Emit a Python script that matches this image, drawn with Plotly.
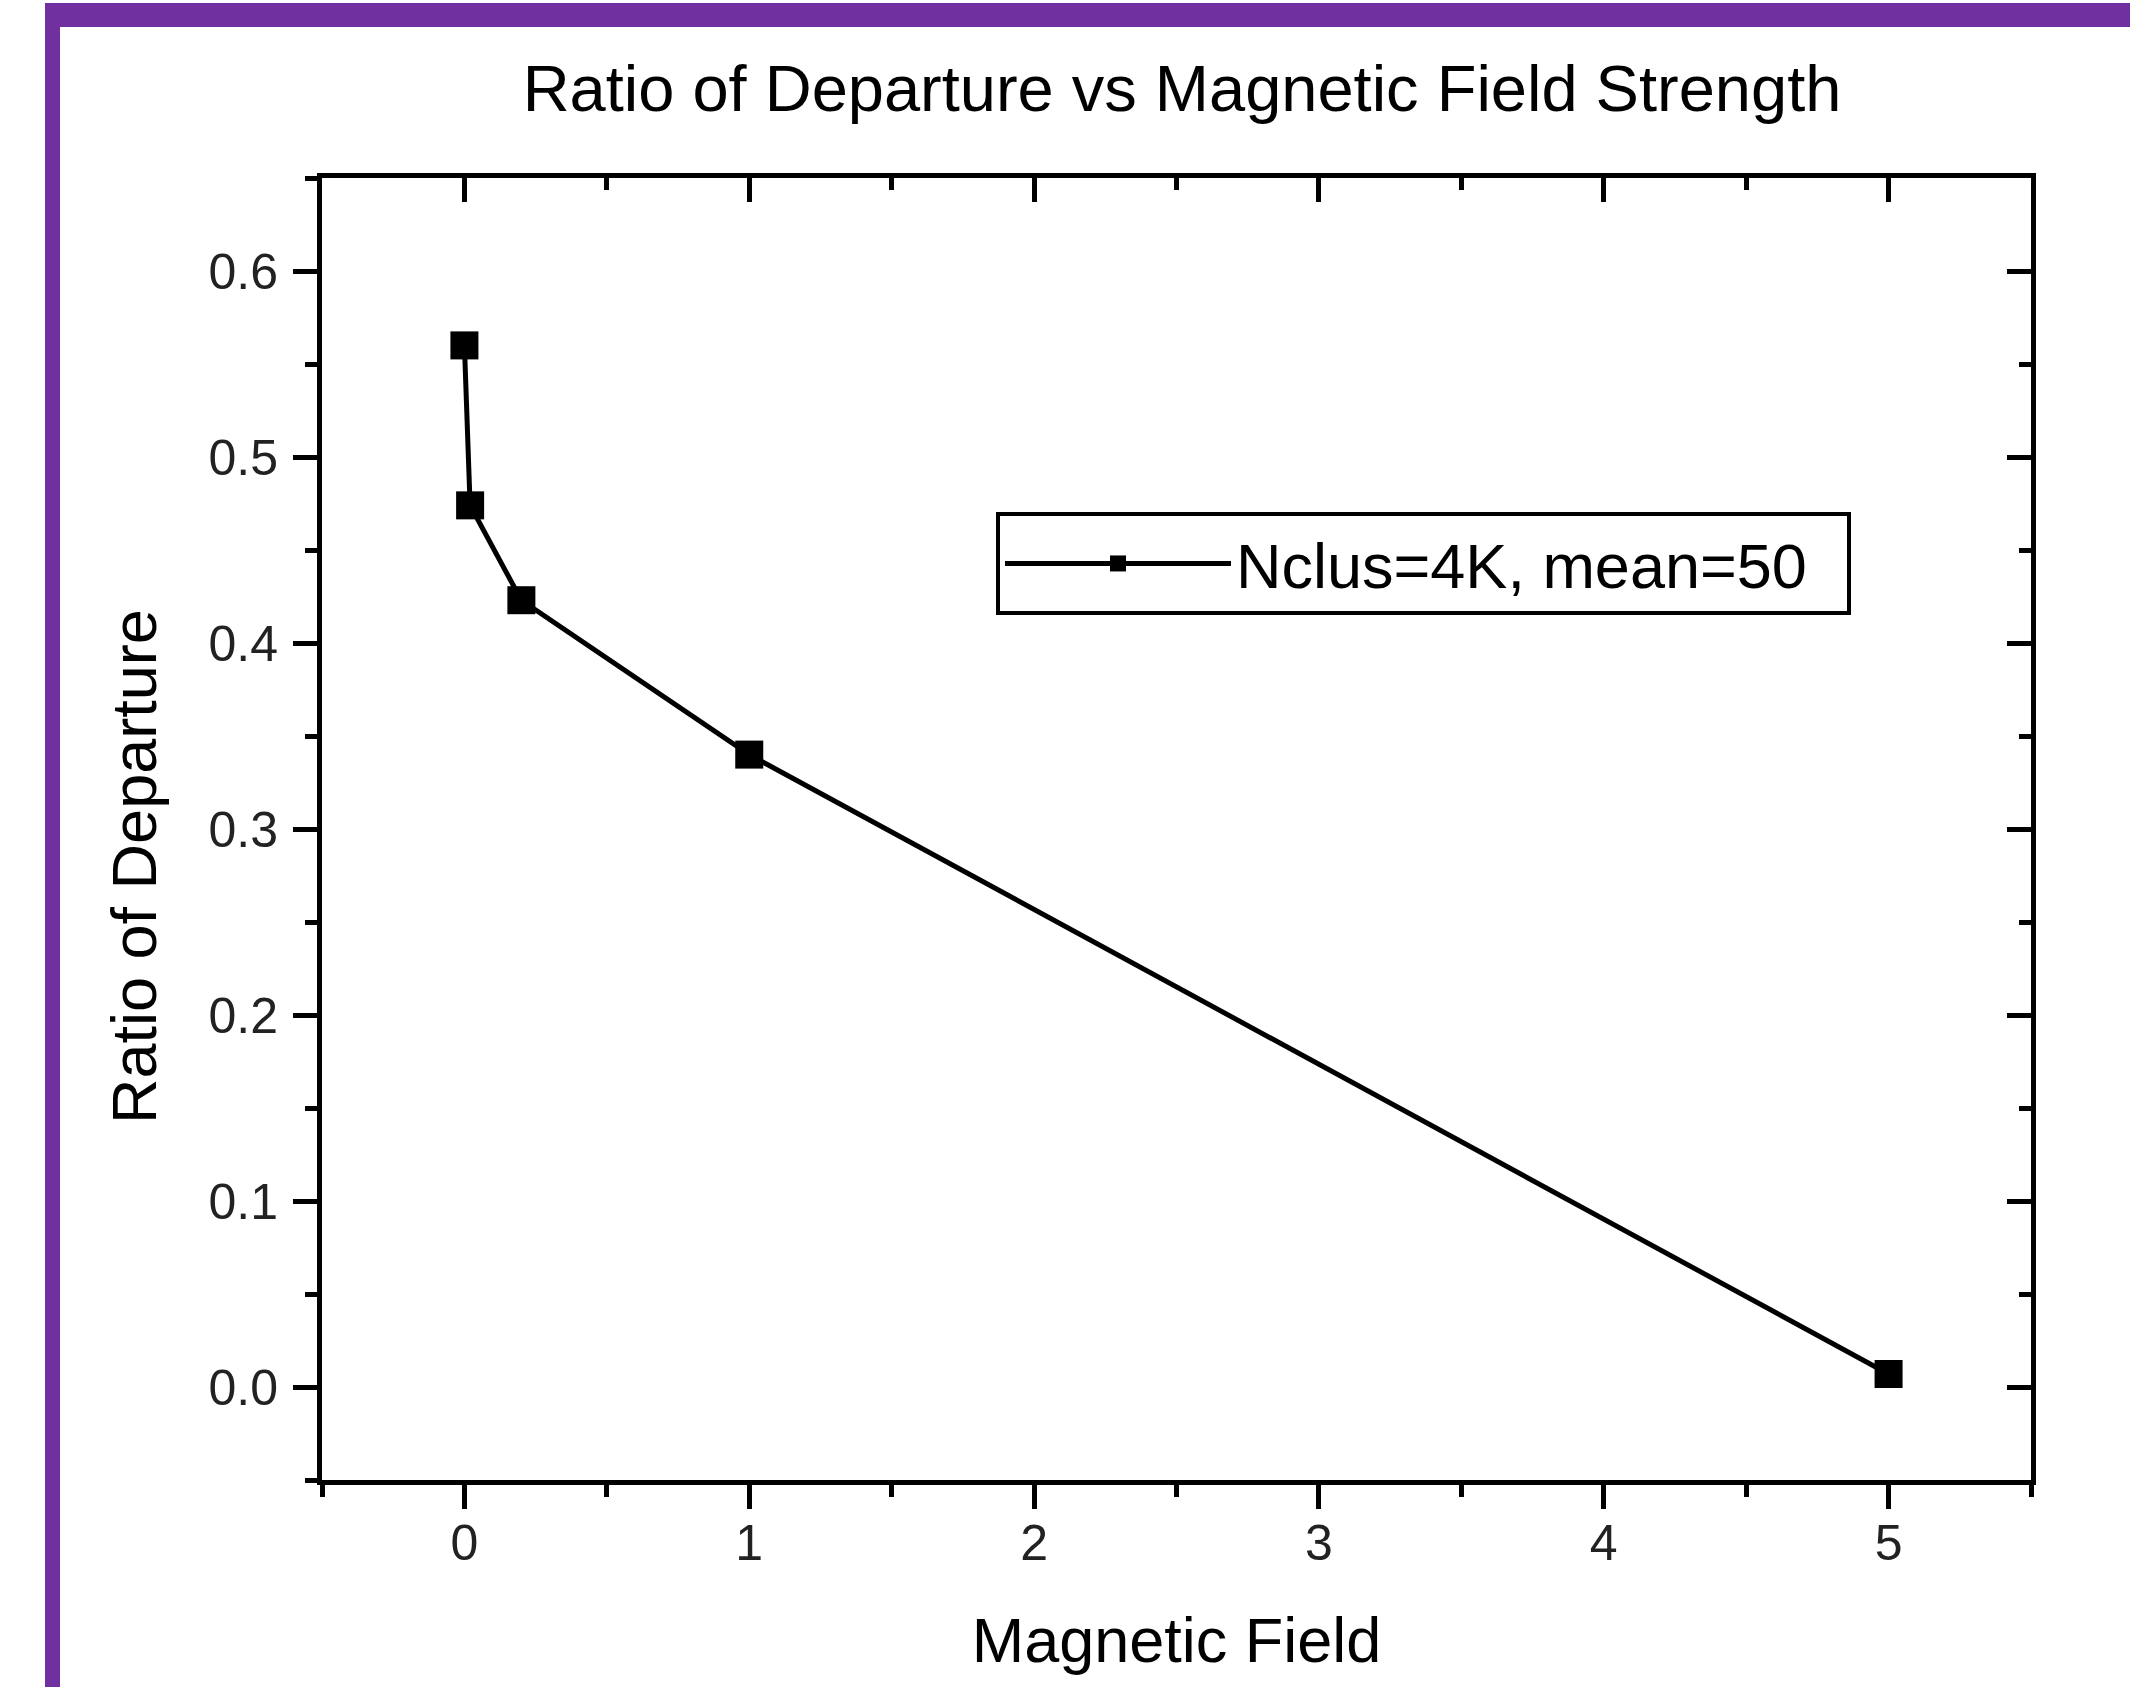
import plotly.graph_objects as go

# ---- data ----
magnetic_field = [0.0, 0.02, 0.2, 1.0, 5.0]
ratio_departure = [0.56, 0.474, 0.423, 0.340, 0.007]
series_name = "Nclus=4K, mean=50"
x_ticks = [0, 1, 2, 3, 4, 5]
y_ticks = [0.0, 0.1, 0.2, 0.3, 0.4, 0.5, 0.6]

W, H = 2130, 1687
L, R, T, B = 322, 2031, 178, 1480   # plot area pixel edges

FONT = "Liberation Sans, Arial, sans-serif"
PURPLE = "#7030A0"

def px(x):
    return (x - L) / (R - L)

def py(y):
    return (B - y) / (B - T)

fig = go.Figure()
fig.add_trace(go.Scatter(
    x=magnetic_field, y=ratio_departure, mode="lines+markers",
    name=series_name + "\u00a0\u00a0",
    line=dict(color="black", width=5),
    marker=dict(symbol="square", size=28, color="black"),
))
# invisible trace to activate mirrored (top/right) axes with inside ticks
fig.add_trace(go.Scatter(
    x=magnetic_field, y=ratio_departure, mode="none", xaxis="x2", yaxis="y2",
    showlegend=False, hoverinfo="skip",
))

xr = [-0.5, 5.5]
yr = [-0.05, 0.65]
axis_common = dict(showgrid=False, zeroline=False, showline=True,
                   linecolor="black", linewidth=5, tickcolor="black",
                   tickwidth=5, ticklen=24)

fig.update_layout(
    width=W, height=H,
    paper_bgcolor="white", plot_bgcolor="white",
    margin=dict(l=L, r=W - R, t=T, b=H - B),
    font=dict(family=FONT, color="#111111"),
    title=dict(text="Ratio of Departure vs Magnetic Field Strength",
               font=dict(size=65, color="black", family=FONT),
               x=1182 / W, xanchor="center", y=1 - 88 / H, yanchor="middle"),
    xaxis=dict(range=xr, ticks="outside", tickvals=x_ticks,
               ticktext=[str(v) for v in x_ticks],
               tickfont=dict(size=50, color="#222222"), ticklabelstandoff=-9,
               minor=dict(ticks="outside", dtick=0.5, tick0=0, ticklen=12,
                          tickwidth=5, tickcolor="black"),
               title=dict(text="Magnetic Field", font=dict(size=63, color="black"),
                          standoff=49),
               **axis_common),
    yaxis=dict(range=yr, ticks="outside", tickvals=y_ticks,
               ticktext=[f"{v:.1f}" for v in y_ticks],
               tickfont=dict(size=50, color="#222222"), ticklabelstandoff=5,
               minor=dict(ticks="outside", dtick=0.05, tick0=0, ticklen=12,
                          tickwidth=5, tickcolor="black"),
               **axis_common),
    xaxis2=dict(range=xr, overlaying="x", side="top", anchor="y",
                ticks="inside", tickvals=x_ticks, showticklabels=False,
                minor=dict(ticks="inside", dtick=0.5, tick0=0, ticklen=12,
                           tickwidth=5, tickcolor="black"),
                **axis_common),
    yaxis2=dict(range=yr, overlaying="y", side="right", anchor="x",
                ticks="inside", tickvals=y_ticks, showticklabels=False,
                minor=dict(ticks="inside", dtick=0.05, tick0=0, ticklen=12,
                           tickwidth=5, tickcolor="black"),
                **axis_common),
    annotations=[
        dict(text="Ratio of Departure", textangle=-90, xref="paper", yref="paper",
             x=px(134), y=py(867), xanchor="center", yanchor="middle",
             showarrow=False, font=dict(size=63, color="black", family=FONT)),
    ],
    showlegend=True,
    legend=dict(x=px(996), y=py(512), xanchor="left", yanchor="top",
                bordercolor="black", borderwidth=4, bgcolor="white",
                font=dict(size=63, color="black", family=FONT),
                itemwidth=226, tracegroupgap=0),
    shapes=[
        dict(type="rect", xref="paper", yref="paper",
             x0=px(45), x1=px(W + 5), y0=py(27), y1=py(3),
             fillcolor=PURPLE, line=dict(width=0), layer="above"),
        dict(type="rect", xref="paper", yref="paper",
             x0=px(45), x1=px(60), y0=py(H + 5), y1=py(3),
             fillcolor=PURPLE, line=dict(width=0), layer="above"),
    ],
)

fig.write_html("out.html")
